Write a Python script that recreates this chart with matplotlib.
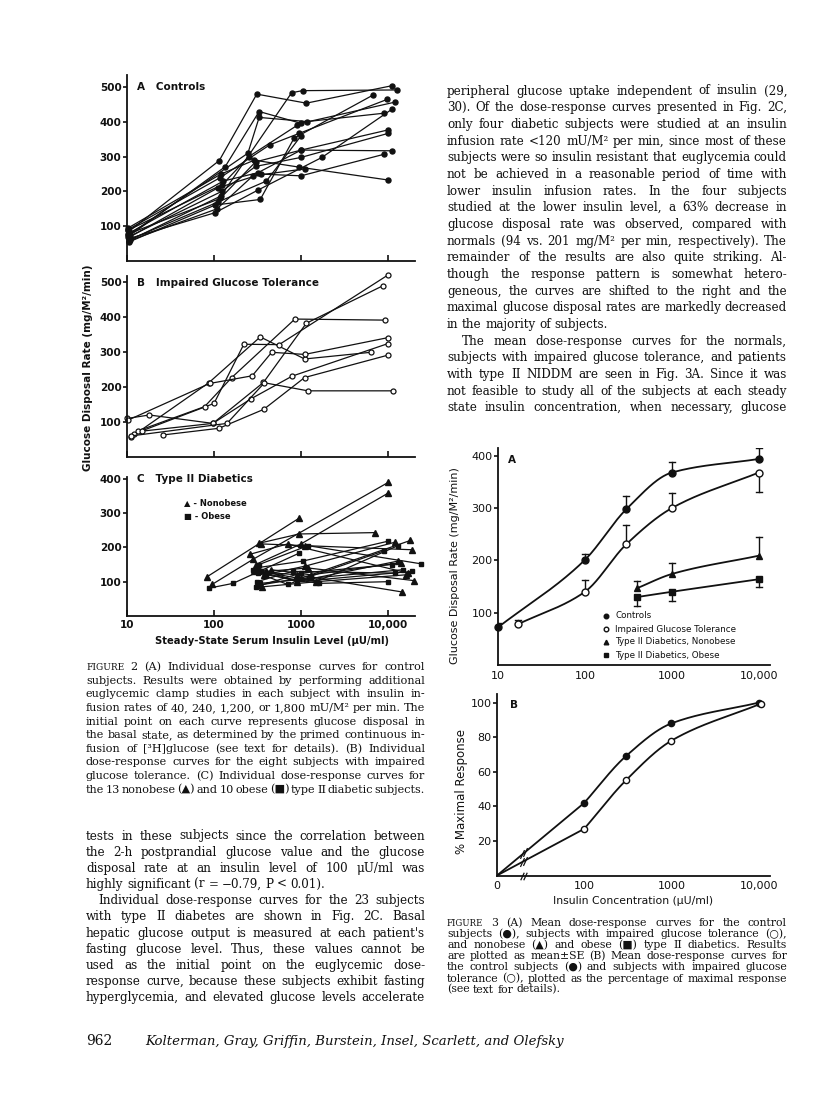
import numpy as np
import matplotlib
matplotlib.use('Agg')
import matplotlib.pyplot as plt
from matplotlib.ticker import NullLocator

W, H = 816, 1117
INK = '#111111'
SERIF = 'DejaVu Serif'
SANS = 'DejaVu Sans'

# ---- Fig 2A: individual controls (x = insulin uU/ml, y = glucose disposal)
ctrl_x = [[10.5, 115, 310, 1150, 11000], [10.3, 134, 330, 1000, 12000],
          [10.8, 120, 780, 1040, 12800], [10.4, 245, 330, 1170, 8900],
          [10.6, 103, 340, 830, 6800], [10.2, 118, 437, 950, 9800],
          [10.7, 103, 320, 1740, 11000], [10.5, 128, 320, 1000, 11000],
          [10.9, 122, 300, 1000, 10000], [10.3, 120, 290, 950, 10000],
          [10.6, 110, 345, 1000, 9000], [10.4, 118, 300, 1000, 10000],
          [10.8, 112, 400, 1000], [10.2, 125, 250, 900], [10.5, 108, 280, 1100]]
ctrl_y = [[85, 289, 480, 454, 504], [70, 271, 430, 396, 457],
          [60, 187, 484, 490, 492], [75, 310, 413, 401, 425],
          [55, 161, 177, 353, 478], [90, 240, 334, 367, 465],
          [65, 139, 204, 298, 436], [80, 230, 254, 319, 317],
          [72, 200, 272, 298, 367], [95, 250, 290, 270, 233],
          [68, 210, 250, 245, 307], [78, 180, 285, 319, 377],
          [62, 170, 230, 360], [88, 220, 300, 390], [58, 150, 245, 265]]

# ---- Fig 2B: impaired glucose tolerance
igt_x = [[11, 87, 340, 1100, 6300], [12, 100, 220, 560, 10000],
         [13.5, 78, 160, 850, 9200], [10, 18, 97, 370, 1150, 8700],
         [10.2, 89, 275, 460, 1100, 10000], [15, 97, 265, 790, 10000],
         [26, 114, 372, 1100, 10000], [11, 141, 380, 1200, 11500]]
igt_y = [[56, 212, 343, 280, 299], [66, 153, 322, 321, 520],
         [75, 144, 227, 394, 391], [110, 120, 96, 213, 382, 489],
         [105, 210, 232, 299, 293, 341], [74, 96, 166, 231, 324],
         [63, 82, 136, 227, 291], [60, 96, 212, 189, 189]]

# ---- Fig 2C: type II diabetics
nonob_x = [[84, 950], [95, 280, 10000], [300, 1000, 10000], [330, 950, 7100],
           [330, 1000, 18000], [290, 900, 14500], [350, 1100, 19000],
           [400, 1200, 20000], [320, 900, 13000], [380, 1100, 12000],
           [260, 700, 17000], [450, 1300, 14000], [360, 1500, 16000]]
nonob_y = [[115, 285], [92, 165, 389], [150, 210, 358], [212, 239, 243],
           [90, 110, 220], [130, 120, 70], [210, 205, 193],
           [130, 140, 103], [140, 100, 160], [120, 145, 215],
           [180, 210, 125], [135, 120, 155], [85, 100, 120]]
obese_x = [[87, 165, 950], [300, 1050, 10000], [320, 700, 9000],
           [350, 1500, 13000], [300, 1000, 11000], [330, 1200, 24000],
           [400, 1600, 10000], [310, 800, 12000], [340, 1300, 15000],
           [280, 900, 19000]]
obese_y = [[81, 95, 183], [140, 160, 218], [125, 92, 190], [130, 100, 205],
           [85, 125, 150], [150, 205, 152], [120, 95, 100], [100, 130, 125],
           [95, 110, 135], [135, 100, 130]]

# ---- Fig 3A: means +- SE
m_ctrl_x = [10, 100, 300, 1000, 10000]
m_ctrl_y = [72, 201, 298, 368, 394]
m_ctrl_up = [8, 11, 25, 21, 21]
m_igt_x = [17, 100, 300, 1000, 10000]
m_igt_y = [78, 140, 231, 300, 368]
m_igt_up = [8, 22, 37, 28, 0]
m_igt_dn = [0, 0, 0, 0, 38]
m_non_x = [400, 1000, 10000]
m_non_y = [147, 174, 209]
m_non_up = [13, 22, 36]
m_obe_x = [400, 1000, 10000]
m_obe_y = [130, 140, 164]
m_obe_dn = [17, 17, 14]

# ---- Fig 3B: % maximal response (first point = 0 insulin, drawn at 10)
p_ctrl_x = [10, 100, 300, 1000, 10000]
p_ctrl_y = [0, 42, 69, 88, 100]
p_igt_x = [10, 100, 300, 1000, 10700]
p_igt_y = [0, 27, 55, 78, 99.5]

fig2_xticks = ['10', '100', '1000', '10,000']
fig3b_xticks = ['0', '100', '1000', '10,000']

right_col = [
    "peripheral glucose uptake independent of insulin (29,",
    "30). Of the dose-response curves presented in Fig. 2C,",
    "only four diabetic subjects were studied at an insulin",
    "infusion rate <120 mU/M\u00b2 per min, since most of these",
    "subjects were so insulin resistant that euglycemia could",
    "not be achieved in a reasonable period of time with",
    "lower insulin infusion rates. In the four subjects",
    "studied at the lower insulin level, a 63% decrease in",
    "glucose disposal rate was observed, compared with",
    "normals (94 vs. 201 mg/M\u00b2 per min, respectively). The",
    "remainder of the results are also quite striking. Al-",
    "though the response pattern is somewhat hetero-",
    "geneous, the curves are shifted to the right and the",
    "maximal glucose disposal rates are markedly decreased",
    "in the majority of subjects.",
    "The mean dose-response curves for the normals,",
    "subjects with impaired glucose tolerance, and patients",
    "with type II NIDDM are seen in Fig. 3A. Since it was",
    "not feasible to study all of the subjects at each steady",
    "state insulin concentration, when necessary, glucose",
]
cap2 = [
    "FIGURE 2  (A) Individual dose-response curves for control",
    "subjects. Results were obtained by performing additional",
    "euglycemic clamp studies in each subject with insulin in-",
    "fusion rates of 40, 240, 1,200, or 1,800 mU/M\u00b2 per min. The",
    "initial point on each curve represents glucose disposal in",
    "the basal state, as determined by the primed continuous in-",
    "fusion of [\u00b3H]glucose (see text for details). (B) Individual",
    "dose-response curves for the eight subjects with impaired",
    "glucose tolerance. (C) Individual dose-response curves for",
    "the 13 nonobese (\u25b2) and 10 obese (\u25a0) type II diabetic subjects.",
]
left_col = [
    "tests in these subjects since the correlation between",
    "the 2-h postprandial glucose value and the glucose",
    "disposal rate at an insulin level of 100 \u03bcU/ml was",
    "highly significant (r = \u22120.79, P < 0.01).",
    "Individual dose-response curves for the 23 subjects",
    "with type II diabetes are shown in Fig. 2C. Basal",
    "hepatic glucose output is measured at each patient's",
    "fasting glucose level. Thus, these values cannot be",
    "used as the initial point on the euglycemic dose-",
    "response curve, because these subjects exhibit fasting",
    "hyperglycemia, and elevated glucose levels accelerate",
]
cap3 = [
    "FIGURE 3  (A) Mean dose-response curves for the control",
    "subjects (\u25cf), subjects with impaired glucose tolerance (\u25cb),",
    "and nonobese (\u25b2) and obese (\u25a0) type II diabetics. Results",
    "are plotted as mean\u00b1SE (B) Mean dose-response curves for",
    "the control subjects (\u25cf) and subjects with impaired glucose",
    "tolerance (\u25cb), plotted as the percentage of maximal response",
    "(see text for details).",
]

fig = plt.figure(figsize=(W / 100, H / 100), dpi=100)
renderer = fig.canvas.get_renderer()


def rect(x0, y0, x1, y1):
    return [x0 / W, 1 - y1 / H, (x1 - x0) / W, (y1 - y0) / H]


def put(x, y, s, **kw):
    kw.setdefault('color', INK)
    return fig.text(x / W, 1 - y / H, s, **kw)


def text_line(x0, x1, y, s, size, last=False, indent=0):
    # justified line: words spread between x0 and x1
    words = s.split()
    objs = []
    for w in words:
        sz = size * 0.8 if w == 'FIGURE' else size
        objs.append(put(0, y, w, fontsize=sz, family=SERIF, va='baseline'))
    widths = [o.get_window_extent(renderer).width for o in objs]
    if last or len(words) < 2:
        gap = 0.3 * size * 100 / 72
    else:
        gap = (x1 - x0 - indent - sum(widths)) / (len(words) - 1)
    x = x0 + indent
    for o, w in zip(objs, widths):
        o.set_x(x / W)
        x += w + gap


def smooth(xs, ys, n=60):
    # monotone cubic drawn in log-x space, only for the look of the curve
    lx = np.log10(np.asarray(xs, float))
    y = np.asarray(ys, float)
    h = np.diff(lx)
    d = np.diff(y) / h
    m = np.zeros_like(y)
    m[0], m[-1] = d[0], d[-1]
    for k in range(1, len(y) - 1):
        if d[k - 1] * d[k] <= 0:
            m[k] = 0
        else:
            w1, w2 = 2 * h[k] + h[k - 1], h[k] + 2 * h[k - 1]
            m[k] = (w1 + w2) / (w1 / d[k - 1] + w2 / d[k])
    t = np.linspace(0, 1, n)
    ox, oy = [], []
    for k in range(len(h)):
        h00 = 2 * t**3 - 3 * t**2 + 1
        h10 = t**3 - 2 * t**2 + t
        h01 = -2 * t**3 + 3 * t**2
        h11 = t**3 - t**2
        oy.append(h00 * y[k] + h10 * h[k] * m[k] + h01 * y[k + 1] + h11 * h[k] * m[k + 1])
        ox.append(lx[k] + t * h[k])
    return 10 ** np.concatenate(ox), np.concatenate(oy)


def style_axes(ax, xmax, ymax, yticks, bold, lsize):
    ax.set_xscale('log')
    ax.set_xlim(10, xmax)
    ax.set_ylim(0, ymax)
    ax.patch.set_alpha(0)
    for s in ('top', 'right'):
        ax.spines[s].set_visible(False)
    for s in ('left', 'bottom'):
        ax.spines[s].set_linewidth(1.3)
        ax.spines[s].set_color(INK)
    ax.set_xticks([10, 100, 1000, 10000])
    ax.xaxis.set_minor_locator(NullLocator())
    ax.set_yticks(yticks)
    ax.set_yticklabels([str(v) for v in yticks], fontsize=lsize,
                       fontweight='bold' if bold else 'normal', color=INK)
    ax.tick_params(axis='y', direction='out', length=3, width=1.2, pad=1, colors=INK)
    ax.tick_params(axis='x', direction='in', length=4, width=1.2, colors=INK)


# ===== Figure 2 panels =====
axA = fig.add_axes(rect(127, 75, 415, 261))
axB = fig.add_axes(rect(127, 276, 415, 457))
axC = fig.add_axes(rect(127, 477, 415, 616))
style_axes(axA, 20400, 535, [100, 200, 300, 400, 500], True, 7.5)
style_axes(axB, 20400, 517, [100, 200, 300, 400, 500], True, 7.5)
style_axes(axC, 20400, 405, [100, 200, 300, 400], True, 7.5)
for ax in (axA, axB):
    ax.set_xticklabels([])
axC.set_xticklabels(fig2_xticks, fontsize=7.5, fontweight='bold')
axC.tick_params(axis='x', pad=3)

for xs, ys in zip(ctrl_x, ctrl_y):
    axA.plot(xs, ys, '-o', color=INK, lw=0.9, ms=3.6, clip_on=False)
for xs, ys in zip(igt_x, igt_y):
    axB.plot(xs, ys, '-o', color=INK, mfc='white', mec=INK, mew=0.9,
             lw=0.9, ms=3.6, clip_on=False)
for xs, ys in zip(nonob_x, nonob_y):
    axC.plot(xs, ys, '-^', color=INK, lw=0.9, ms=3.8, clip_on=False)
for xs, ys in zip(obese_x, obese_y):
    axC.plot(xs, ys, '-s', color=INK, lw=0.9, ms=3.4, clip_on=False)

put(137, 87, 'A   Controls', fontsize=7.5, fontweight='bold', va='center')
put(137, 283, 'B   Impaired Glucose Tolerance', fontsize=7.5, fontweight='bold', va='center')
put(137, 479, 'C   Type II Diabetics', fontsize=7.5, fontweight='bold', va='center')
put(184, 503, '\u25b2 - Nonobese', fontsize=6, fontweight='bold', va='center')
put(184, 516, '\u25a0 - Obese', fontsize=6, fontweight='bold', va='center')
put(88, 368, 'Glucose Disposal Rate (mg/M\u00b2/min)', fontsize=7.5,
    fontweight='bold', rotation=90, ha='center', va='center')
put(272, 641, 'Steady-State Serum Insulin Level (\u00b5U/ml)', fontsize=7.2,
    fontweight='bold', ha='center', va='center')

# ===== Figure 3A =====
ax3a = fig.add_axes(rect(498, 448, 770, 665))
style_axes(ax3a, 13500, 415, [100, 200, 300, 400], False, 8)
ax3a.set_xticklabels(fig2_xticks, fontsize=8)
ax3a.tick_params(axis='x', length=0, pad=4)

capf = 10 ** 0.035


def err_bars(ax, xs, ys, up=None, dn=None):
    for i, (x, y) in enumerate(zip(xs, ys)):
        for e in ((up[i] if up else 0), -(dn[i] if dn else 0)):
            if e != 0:
                ax.plot([x, x], [y, y + e], color=INK, lw=1.0)
                ax.plot([x / capf, x * capf], [y + e, y + e], color=INK, lw=1.0)


for xs, ys in ((m_ctrl_x, m_ctrl_y), (m_igt_x, m_igt_y),
               (m_non_x, m_non_y), (m_obe_x, m_obe_y)):
    sx, sy = smooth(xs, ys)
    ax3a.plot(sx, sy, color=INK, lw=1.3)
err_bars(ax3a, m_ctrl_x, m_ctrl_y, up=m_ctrl_up)
err_bars(ax3a, m_igt_x, m_igt_y, up=m_igt_up, dn=m_igt_dn)
err_bars(ax3a, m_non_x, m_non_y, up=m_non_up)
err_bars(ax3a, m_obe_x, m_obe_y, dn=m_obe_dn)
ax3a.plot(m_ctrl_x, m_ctrl_y, 'o', color=INK, ms=5, clip_on=False, zorder=4)
ax3a.plot(m_igt_x, m_igt_y, 'o', mfc='white', mec=INK, mew=1, ms=5, clip_on=False, zorder=4)
ax3a.plot(m_non_x, m_non_y, '^', color=INK, ms=5, clip_on=False, zorder=4)
ax3a.plot(m_obe_x, m_obe_y, 's', color=INK, ms=4.5, clip_on=False, zorder=4)

put(508, 460, 'A', fontsize=7.5, fontweight='bold', va='center')
leg_rows = [('o', INK, 'Controls'), ('o', 'white', 'Impaired Glucose Tolerance'),
            ('^', INK, 'Type II Diabetics, Nonobese'), ('s', INK, 'Type II Diabetics, Obese')]
for i, (mk, fc, lab) in enumerate(leg_rows):
    yy = 616 + 13 * i
    ax3a.plot([606 / W], [1 - yy / H], mk, mfc=fc, mec=INK, ms=3.3,
              transform=fig.transFigure, clip_on=False)
    put(615, yy, lab, fontsize=6.3, va='center')
put(455, 566, 'Glucose Disposal Rate (mg/M\u00b2/min)', fontsize=8,
    rotation=90, ha='center', va='center')

# ===== Figure 3B =====
ax3b = fig.add_axes(rect(497, 694, 770, 875.5))
style_axes(ax3b, 13500, 105, [20, 40, 60, 80, 100], False, 8)
ax3b.set_xticklabels(fig3b_xticks, fontsize=8)
ax3b.tick_params(axis='x', length=0, pad=4)
brk = [19.5, 20.9]
for xs, ys, fc in ((p_ctrl_x, p_ctrl_y, INK), (p_igt_x, p_igt_y, 'white')):
    ax3b.plot(xs[:2], ys[:2], color=INK, lw=1.3)
    sx, sy = smooth(xs[1:], ys[1:])
    ax3b.plot(sx, sy, color=INK, lw=1.3)
    ax3b.plot(xs[1:], ys[1:], 'o', mfc=fc, mec=INK, mew=1, ms=4.5,
              clip_on=False, zorder=4)
    for bx in brk:
        frac = np.log10(bx / xs[0]) / np.log10(xs[1] / xs[0])
        ax3b.plot(bx, ys[0] + (ys[1] - ys[0]) * frac, marker=(2, 0, -25),
                  ms=7, mew=0.9, color=INK)
for bx in brk:
    ax3b.plot(bx, 0, marker=(2, 0, -25), ms=6, mew=0.9, color=INK, clip_on=False)
put(510, 705, 'B', fontsize=7.5, fontweight='bold', va='center')
put(462, 792, '% Maximal Response', fontsize=8.5, rotation=90, ha='center', va='center')
put(633, 901, 'Insulin Concentration (\u00b5U/ml)', fontsize=7.8, ha='center', va='center')

# ===== page text =====
for i, s in enumerate(right_col):
    text_line(447, 787, 94.5 + 16.67 * i, s, 8.6, last=(i == 14), indent=(15 if i == 15 else 0))
for i, s in enumerate(cap2):
    text_line(86, 425, 670 + 13.63 * i, s, 8.1)
for i, s in enumerate(left_col):
    text_line(86, 425, 839.5 + 16.17 * i, s, 8.6, last=(i == 3), indent=(12 if i == 4 else 0))
for i, s in enumerate(cap3):
    text_line(447, 787, 926 + 11.1 * i, s, 7.8, last=(i == 6))

put(86, 1045, '962', fontsize=10, family=SERIF, va='baseline')
put(145, 1045, 'Kolterman, Gray, Griffin, Burstein, Insel, Scarlett, and Olefsky',
    fontsize=9.5, family=SERIF, style='italic', va='baseline')

fig.savefig('out.png', dpi=100)
